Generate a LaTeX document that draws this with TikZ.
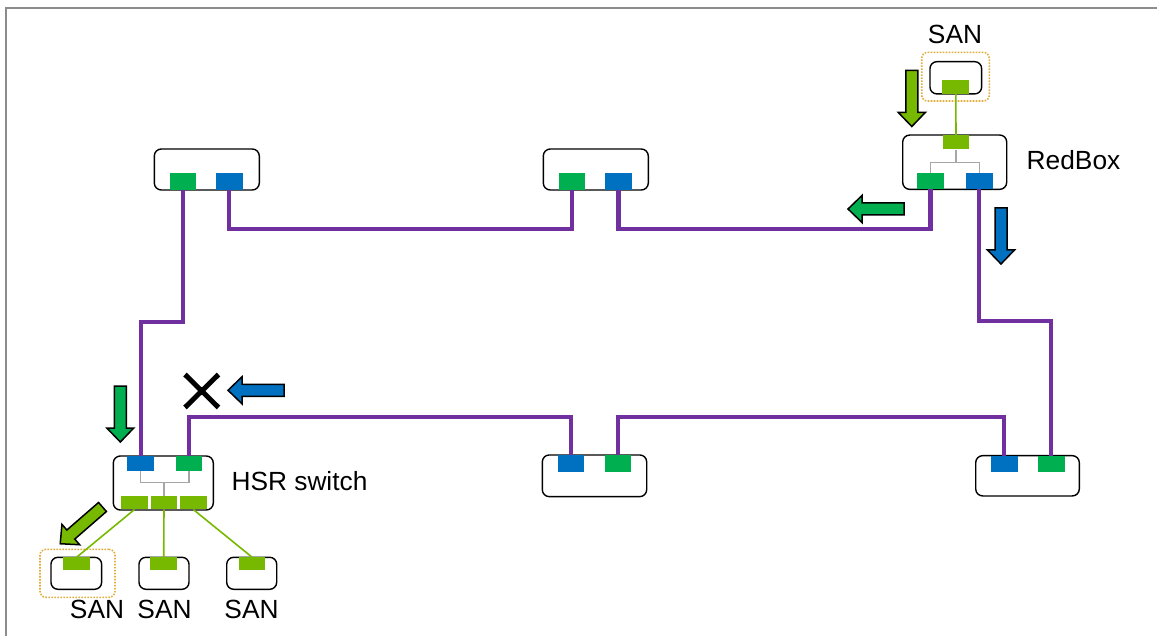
\documentclass[tikz,border=0pt]{standalone}
\usepackage{fontspec}
\setmainfont{Liberation Sans}
\definecolor{pgreen}{HTML}{00B050}
\definecolor{pblue}{HTML}{0070C0}
\definecolor{lgreen}{HTML}{77B900}
\definecolor{ring}{HTML}{7030A0}
\definecolor{inner}{HTML}{A6A6A6}
\definecolor{sanline}{HTML}{E0AE3C}
\definecolor{frame}{HTML}{8C8C8C}
\newcommand{\blockarr}[3]{%
  \begin{scope}[shift={#1},rotate=#2]
    \draw[fill=#3,line width=1.5pt,line join=miter]
      (0,-6) -- (42,-6) -- (42,-13.5) -- (56,0) -- (42,13.5) -- (42,6) -- (0,6) -- cycle;
  \end{scope}}
\begin{document}
\begin{tikzpicture}[x=1pt,y=-1pt,
  devbox/.style={draw=black,line width=1.4pt,rounded corners=7pt,inner sep=0pt},
  gport/.style={fill=pgreen,inner sep=0pt,minimum width=26.7pt},
  bport/.style={fill=pblue,inner sep=0pt,minimum width=26.7pt},
  lport/.style={fill=lgreen,inner sep=0pt,minimum width=26.7pt},
  ringline/.style={draw=ring,line width=4.3pt},
  innerline/.style={draw=inner,line width=1.2pt},
  sanlink/.style={draw=lgreen,line width=1.6pt},
  sanframe/.style={draw=sanline,dash pattern=on 1.6pt off 1.4pt,line width=1.6pt,rounded corners=6pt},
  lbl/.style={font=\fontsize{26.3}{31}\selectfont,inner sep=0pt}]
\useasboundingbox (0,0) rectangle (1157,636);
% frame
\draw[frame,line width=2pt] (6,636) -- (6,8) -- (1157,8);

% top-left node
\node[devbox,minimum width=105pt,minimum height=41pt] (tl) at (206.8,169.5) {};
\node[gport,minimum height=17pt] (tlg) at (183,181.5) {};
\node[bport,minimum height=17pt] (tlb) at (229.3,181.5) {};
% top-middle node
\node[devbox,minimum width=105pt,minimum height=41pt] (tm) at (595.8,169.5) {};
\node[gport,minimum height=17pt] (tmg) at (572,181.5) {};
\node[bport,minimum height=17pt] (tmb) at (618.5,181.5) {};
% RedBox
\node[devbox,minimum width=104pt,minimum height=54.3pt] (rb) at (954.7,162.2) {};
\node[lport,minimum height=14.3pt] (rbt) at (956,142.2) {};
\node[gport,minimum height=16pt] (rbg) at (930.5,181.3) {};
\node[bport,minimum height=16pt] (rbb) at (979.3,181.3) {};
\node[lbl] (rblabel) at (1073.5,160) {RedBox};
% top SAN
\node[devbox,minimum width=51.7pt,minimum height=32.3pt] (st) at (955.8,77.8) {};
\node[lport,minimum height=14pt] (stp) at (955.8,87) {};
\node[sanframe,minimum width=67.6pt,minimum height=48.7pt] (stf) at (955.5,76.7) {};
\node[lbl] (stlabel) at (955,34) {SAN};
% bottom-middle node
\node[devbox,minimum width=104.4pt,minimum height=41.7pt] (bm) at (594.5,475.8) {};
\node[bport,minimum height=16.7pt] (bmb) at (571,463.4) {};
\node[gport,minimum height=16.7pt] (bmg) at (618,463.4) {};
% bottom-right node
\node[devbox,minimum width=103.6pt,minimum height=40.3pt] (br) at (1027.5,475.8) {};
\node[bport,minimum height=16.3pt] (brb) at (1004.3,463.9) {};
\node[gport,minimum height=16.3pt] (brg) at (1051.3,463.9) {};
% HSR switch
\node[devbox,minimum width=100pt,minimum height=54pt] (hs) at (163.3,483) {};
\node[bport,minimum height=15pt] (hsb) at (140.7,463.5) {};
\node[gport,minimum height=15pt] (hsg) at (189,463.5) {};
\node[lport,minimum height=13.6pt] (hs1) at (134.5,502.5) {};
\node[lport,minimum height=13.6pt] (hs2) at (164,502.5) {};
\node[lport,minimum height=13.6pt] (hs3) at (193.3,502.5) {};
\node[lbl] (hslabel) at (299.5,481) {HSR switch};
% bottom SANs
\node[devbox,minimum width=50.7pt,minimum height=32pt] (s1) at (76.3,573.3) {};
\node[lport,minimum height=12.7pt] (s1p) at (76.7,563.7) {};
\node[sanframe,minimum width=75pt,minimum height=48pt] (s1f) at (77.5,573.3) {};
\node[devbox,minimum width=50pt,minimum height=32pt] (s2) at (164,573.3) {};
\node[lport,minimum height=12.7pt] (s2p) at (163.7,563.7) {};
\node[devbox,minimum width=50pt,minimum height=32pt] (s3) at (251.7,573.3) {};
\node[lport,minimum height=12.7pt] (s3p) at (252,563.7) {};
\node[lbl] (s1label) at (97,609) {SAN};
\node[lbl] (s2label) at (164.5,609) {SAN};
\node[lbl] (s3label) at (251.5,609) {SAN};

% ring lines
\path[ringline] (tlb.south) -- (tlb.south |- 0,229) -- (tmg.south |- 0,229) -- (tmg.south);
\path[ringline] (tmb.south) -- (tmb.south |- 0,229) -- (rbg.south |- 0,229) -- (rbg.south);
\path[ringline] (rbb.south) -- (rbb.south |- 0,321) -- (brg.north |- 0,321) -- (brg.north);
\path[ringline] (brb.north) -- (brb.north |- 0,417) -- (bmg.north |- 0,417) -- (bmg.north);
\path[ringline] (bmb.north) -- (bmb.north |- 0,417) -- (hsg.north |- 0,417) -- (hsg.north);
\path[ringline] (hsb.north) -- (hsb.north |- 0,322) -- (tlg.south |- 0,322) -- (tlg.south);

% inner lines RedBox
\path[innerline] (rbt.south) -- (rbt.south |- 0,162.3);
\path[innerline] (rbg.north) -- (rbg.north |- 0,162.3) -- (rbb.north |- 0,162.3) -- (rbb.north);
% inner lines HSR switch
\path[innerline] (hsb.south) -- (hsb.south |- 0,482.7) -- (hsg.south |- 0,482.7) -- (hsg.south);
\path[innerline] (hs2.north) -- (hs2.north |- 0,482.7);

% SAN links
\path[sanlink] (stp.south) -- (rbt.north);
\path[sanlink] (hs1.south) -- (s1p.north);
\path[sanlink] (hs2.south) -- (s2p.north);
\path[sanlink] (hs3.south) -- (s3p.north);

% block arrows
\blockarr{(911.8,70.5)}{-90}{lgreen}
\blockarr{(1001,208)}{-90}{pblue}
\blockarr{(904,209)}{180}{pgreen}
\blockarr{(120.3,386)}{-90}{pgreen}
\blockarr{(284,390.3)}{180}{pblue}
\blockarr{(102.5,507)}{-139}{lgreen}

% cross
\draw[line width=5pt] (185,374.5) -- (218.5,407.5) (218.5,374.5) -- (185,407.5);
\end{tikzpicture}
\end{document}
